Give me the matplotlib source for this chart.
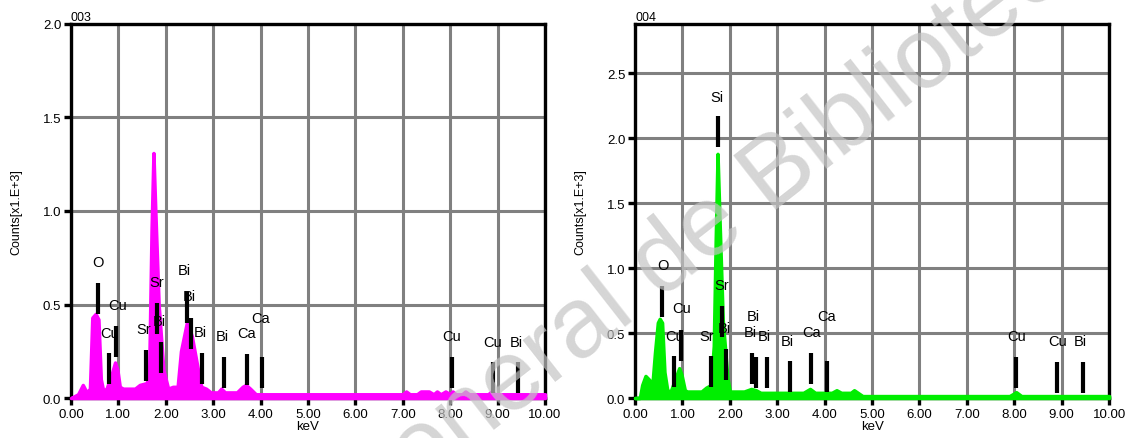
import matplotlib.pyplot as plt

plt.rcParams['font.family'] = ['Liberation Sans', 'DejaVu Sans']

# ---- spectrum 003 (magenta) ----
kev_003 = [0.00, 0.15, 0.25, 0.33, 0.40, 0.45, 0.52, 0.58, 0.63, 0.68, 0.75, 0.85, 0.93, 0.98,
           1.03, 1.10, 1.35, 1.45, 1.60, 1.65, 1.70, 1.74, 1.78, 1.85, 1.95, 2.05, 2.15, 2.25,
           2.32, 2.45, 2.55, 2.68, 2.75, 2.85, 2.95, 3.10, 3.17, 3.25, 3.50, 3.62, 3.69, 3.78,
           3.90, 4.20, 7.00, 7.07, 7.15, 7.30, 7.38, 7.45, 7.55, 7.65, 7.72, 7.80, 7.90, 8.00,
           8.05, 8.12, 8.25, 8.32, 8.40, 8.80, 8.87, 8.95, 10.00]
cnt_003 = [0.00, 0.02, 0.07, 0.03, 0.05, 0.43, 0.45, 0.42, 0.10, 0.04, 0.05, 0.12, 0.19, 0.15,
           0.06, 0.05, 0.05, 0.07, 0.08, 0.15, 0.90, 1.31, 1.00, 0.50, 0.15, 0.05, 0.06, 0.06,
           0.25, 0.41, 0.33, 0.15, 0.06, 0.05, 0.03, 0.03, 0.05, 0.03, 0.03, 0.06, 0.07, 0.05,
           0.02, 0.02, 0.02, 0.035, 0.02, 0.02, 0.035, 0.035, 0.035, 0.02, 0.035, 0.02, 0.035, 0.02,
           0.035, 0.02, 0.02, 0.035, 0.02, 0.02, 0.035, 0.02, 0.02]

el_003 = ['O', 'Cu', 'Cu', 'Sr', 'Sr', 'Bi', 'Bi', 'Bi', 'Bi', 'Bi', 'Ca', 'Ca', 'Cu', 'Cu', 'Bi']
line_kev_003 = [0.57, 0.80, 0.96, 1.58, 1.82, 1.90, 2.45, 2.53, 2.76, 3.23, 3.72, 4.02, 8.04, 8.90, 9.44]
line_top_003 = [0.615, 0.239, 0.383, 0.257, 0.51, 0.30, 0.565, 0.426, 0.239, 0.218, 0.235, 0.218,
                0.218, 0.194, 0.194]
lab_kev_003 = [0.57, 0.81, 0.98, 1.53, 1.80, 1.87, 2.40, 2.50, 2.72, 3.20, 3.70, 4.00, 8.03, 8.90, 9.40]
lab_cnt_003 = [0.729, 0.35, 0.497, 0.37, 0.62, 0.41, 0.686, 0.547, 0.353, 0.333, 0.346, 0.43,
               0.33, 0.30, 0.30]

# ---- spectrum 004 (green) ----
kev_004 = [0.00, 0.10, 0.15, 0.22, 0.30, 0.36, 0.42, 0.48, 0.52, 0.57, 0.62, 0.68, 0.75, 0.85,
           0.93, 0.98, 1.05, 1.10, 1.40, 1.50, 1.60, 1.66, 1.70, 1.74, 1.78, 1.85, 1.95, 2.00,
           2.30, 2.45, 2.55, 2.65, 3.55, 3.69, 3.80, 4.15, 4.25, 4.35, 4.55, 4.62, 4.70, 4.80,
           7.90, 8.04, 8.15, 10.00]
cnt_004 = [0.00, 0.00, 0.10, 0.17, 0.14, 0.08, 0.35, 0.58, 0.61, 0.58, 0.20, 0.06, 0.05, 0.15,
           0.23, 0.18, 0.06, 0.05, 0.05, 0.08, 0.10, 0.40, 1.20, 1.88, 1.40, 0.60, 0.15, 0.05,
           0.05, 0.07, 0.06, 0.04, 0.04, 0.07, 0.04, 0.04, 0.06, 0.04, 0.04, 0.06, 0.04, 0.015,
           0.015, 0.045, 0.015, 0.015]

el_004 = ['O', 'Cu', 'Cu', 'Sr', 'Si', 'Sr', 'Bi', 'Bi', 'Bi', 'Bi', 'Bi', 'Ca', 'Ca', 'Cu', 'Cu', 'Bi']
line_kev_004 = [0.576, 0.816, 0.97, 1.597, 1.76, 1.835, 1.91, 2.47, 2.55, 2.78, 3.26, 3.72, 4.04,
                8.04, 8.90, 9.46]
line_top_004 = [0.86, 0.32, 0.525, 0.32, 2.17, 0.71, 0.377, 0.346, 0.313, 0.313, 0.287, 0.346,
                0.287, 0.313, 0.28, 0.28]
lab_kev_004 = [0.58, 0.83, 0.99, 1.51, 1.72, 1.83, 1.88, 2.50, 2.43, 2.72, 3.21, 3.73, 4.04,
               8.05, 8.91, 9.40]
lab_cnt_004 = [1.025, 0.475, 0.69, 0.48, 2.32, 0.87, 0.54, 0.63, 0.505, 0.475, 0.44, 0.505, 0.63,
               0.475, 0.44, 0.44]

xticks = [0, 1, 2, 3, 4, 5, 6, 7, 8, 9, 10]


def draw_panel(ax, kev, cnt, els, lkev, ltop, labk, labc, color, ymax, yticks, title):
    ax.set_xlim(0, 10)
    ax.set_ylim(0, ymax)
    ax.set_xticks(xticks)
    ax.set_xticklabels(['%.2f' % t for t in xticks])
    ax.set_yticks(yticks)
    ax.set_yticklabels(['%.1f' % t for t in yticks])
    ax.grid(True, color='#808080', linewidth=2.2)
    ax.set_axisbelow(True)
    for s in ax.spines.values():
        s.set_linewidth(2.4)
        s.set_color('black')
    ax.tick_params(direction='out', length=5, width=2.4, labelsize=9.5, pad=2, colors='black')

    ax.fill_between(kev, 0, cnt, color=color, linewidth=2.5, edgecolor=color,
                    zorder=3, clip_on=False)

    # element line markers, fixed pixel length (31 px of 374)
    blen = 0.083 * ymax
    for e, x, t, lx, ly in zip(els, lkev, ltop, labk, labc):
        ax.plot([x, x], [t - blen, t], color='black', linewidth=3, zorder=4,
                solid_capstyle='butt')
        ax.text(lx, ly, e, ha='center', va='center', fontsize=10.5, zorder=5)

    ax.set_xlabel('keV', fontsize=9.5, labelpad=0)
    ax.set_ylabel('Counts[x1.E+3]', fontsize=9, labelpad=15)
    ax.set_title(title, loc='left', fontsize=9, pad=3)


fig = plt.figure(figsize=(11.3, 4.39), dpi=100)
ax1 = fig.add_axes([0.0628, 0.0911, 0.4195, 0.852])
ax2 = fig.add_axes([0.5620, 0.0911, 0.4195, 0.852])

draw_panel(ax1, kev_003, cnt_003, el_003, line_kev_003, line_top_003, lab_kev_003, lab_cnt_003,
           '#ff00ff', 2.0, [0.0, 0.5, 1.0, 1.5, 2.0], '003')
draw_panel(ax2, kev_004, cnt_004, el_004, line_kev_004, line_top_004, lab_kev_004, lab_cnt_004,
           '#00ee00', 2.88, [0.0, 0.5, 1.0, 1.5, 2.0, 2.5], '004')

# watermark across the figure
ax_x, ax_y = 660 / 1130, 1 - 300 / 439
wm = dict(rotation=38, rotation_mode='anchor', fontsize=72, color='#c4c4c4', alpha=0.7,
          va='baseline', transform=fig.transFigure, zorder=10)
fig.text(ax_x, ax_y, 'Dirección General ', ha='right', **wm)
fig.text(ax_x, ax_y, 'de Bibliotecas', ha='left', **wm)

fig.savefig('out.png', dpi=100)
